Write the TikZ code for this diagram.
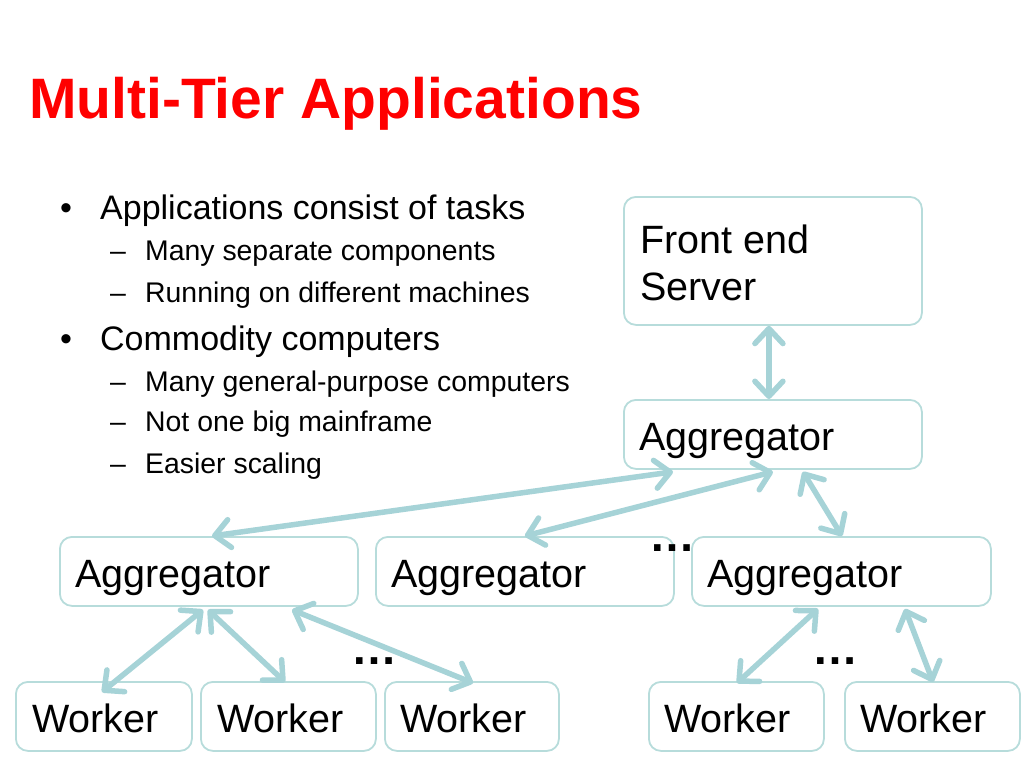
\documentclass[tikz,border=0pt]{standalone}
\usepackage{fontspec}
\setmainfont{Liberation Sans}
\usetikzlibrary{arrows.meta}
\definecolor{boxc}{HTML}{B7DCDB}
\definecolor{arrc}{HTML}{A6D3D7}
\definecolor{titlered}{HTML}{FF0000}
\begin{document}
\begin{tikzpicture}[x=1pt,y=-1pt,
  box/.style={draw=boxc, line width=1.8pt, rounded corners=12pt, fill=white, anchor=north west, inner sep=0pt},
  lbl/.style={anchor=base west, inner sep=0pt, font=\fontsize{39.5}{47}\selectfont},
  lone/.style={anchor=base west, inner sep=0pt, font=\fontsize{34}{40}\selectfont},
  ltwo/.style={anchor=base west, inner sep=0pt, font=\fontsize{28.4}{34}\selectfont},
  dots/.style={inner sep=0pt, font=\bfseries\fontsize{46}{50}\selectfont},
  link/.style={draw=arrc, line width=5.5pt, >={Straight Barb[length=15pt,width=28pt,round]}, <->},
]
\useasboundingbox (0,0) rectangle (1024,768);
% title
\node[anchor=base west, inner sep=0pt, text=titlered, font=\bfseries\fontsize{57}{64}\selectfont] (title) at (29,118) {Multi-Tier Applications};
% bullets
\node[lone] (b1) at (60,219) {•};
\node[lone] (t1) at (100,219) {Applications consist of tasks};
\node[ltwo] (d11) at (110,260) {–};
\node[ltwo] (t11) at (145,260) {Many separate components};
\node[ltwo] (d12) at (110,302) {–};
\node[ltwo] (t12) at (145,302) {Running on different machines};
\node[lone] (b2) at (60,350) {•};
\node[lone] (t2) at (100,350) {Commodity computers};
\node[ltwo] (d21) at (110,391) {–};
\node[ltwo] (t21) at (145,391) {Many general-purpose computers};
\node[ltwo] (d22) at (110,431) {–};
\node[ltwo] (t22) at (145,431) {Not one big mainframe};
\node[ltwo] (d23) at (110,473) {–};
\node[ltwo] (t23) at (145,473) {Easier scaling};
% boxes
\node[box, minimum width=298pt, minimum height=128pt] (fe) at (623,196) {};
\node[box, minimum width=298pt, minimum height=69pt] (agg0) at (623,399) {};
\node[box, minimum width=298pt, minimum height=69pt] (aggL) at (59,536) {};
\node[box, minimum width=298pt, minimum height=69pt] (aggM) at (375,536) {};
\node[box, minimum width=299pt, minimum height=69pt] (aggR) at (691,536) {};
\node[box, minimum width=176pt, minimum height=69pt] (w1) at (15,681) {};
\node[box, minimum width=175pt, minimum height=69pt] (w2) at (200,681) {};
\node[box, minimum width=174pt, minimum height=69pt] (w3) at (384,681) {};
\node[box, minimum width=175pt, minimum height=69pt] (w4) at (648,681) {};
\node[box, minimum width=175pt, minimum height=69pt] (w5) at (844,681) {};
% labels
\node[lbl] (fel1) at (640,253) {Front end};
\node[lbl] (fel2) at (640,300) {Server};
\node[lbl] (agg0l) at (639,450) {Aggregator};
\node[lbl] (aggLl) at (75,587) {Aggregator};
\node[lbl] (aggMl) at (391,587) {Aggregator};
\node[lbl] (aggRl) at (707,587) {Aggregator};
\node[lbl] (w1l) at (32,732) {Worker};
\node[lbl] (w2l) at (217,732) {Worker};
\node[lbl] (w3l) at (400,732) {Worker};
\node[lbl] (w4l) at (664,732) {Worker};
\node[lbl] (w5l) at (860,732) {Worker};
% dots
\node[dots] (dA) at (374,661) {…};
\node[dots] (dB) at (672,548) {…};
\node[dots] (dC) at (835,661) {…};
% connectors
\draw[link] ([xshift=-4pt]fe.south) -- ([xshift=-4pt]agg0.north);
\draw[link] ([shift={(50,2)}]agg0.south west) -- ([shift={(153,0)}]aggL.north west);
\draw[link] ([shift={(0,2)}]agg0.south) -- (aggM.north);
\draw[link] ([shift={(30,2)}]agg0.south) -- ([shift={(151,0)}]aggR.north west);
\draw[link] ([shift={(144,3)}]aggL.south west) -- ([shift={(87,11)}]w1.north west);
\draw[link] ([shift={(149,3)}]aggL.south west) -- ([shift={(85,1)}]w2.north west);
\draw[link] ([shift={(233,3)}]aggL.south west) -- ([shift={(89,2)}]w3.north west);
\draw[link] ([shift={(127,2)}]aggR.south west) -- ([shift={(89,2)}]w4.north west);
\draw[link] ([shift={(214,2)}]aggR.south west) -- ([shift={(89,1)}]w5.north west);
\end{tikzpicture}
\end{document}
